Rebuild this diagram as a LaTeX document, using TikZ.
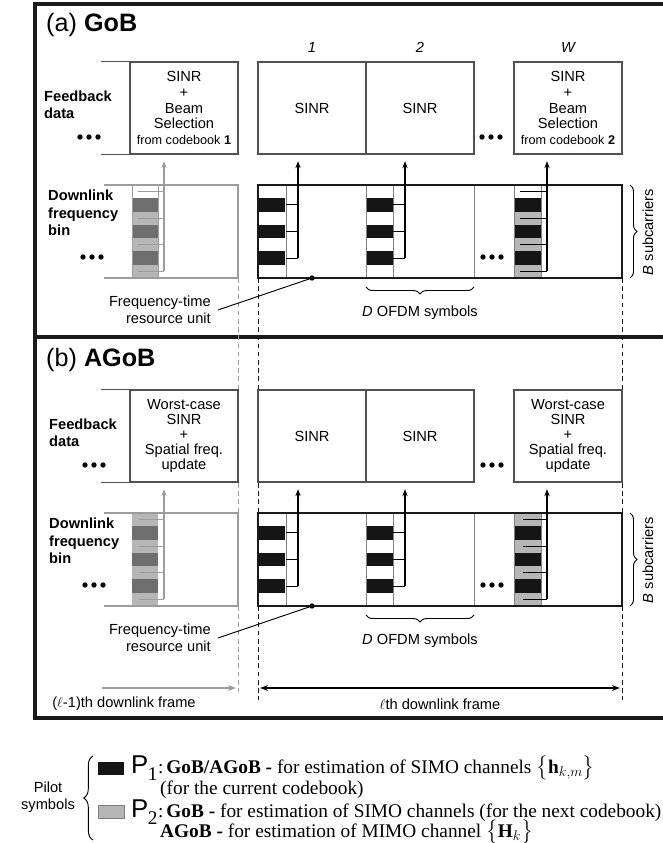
\documentclass[tikz,border=0pt]{standalone}
\usepackage{fontspec}
\usepackage{amsmath}
\setmainfont{Liberation Sans}
\newfontfamily\legfont{Liberation Serif}
\usetikzlibrary{positioning,arrows.meta,decorations.pathreplacing,calc}
\definecolor{cFrm}{HTML}{1A1A1A}
\definecolor{cBox}{HTML}{505050}
\definecolor{cOld}{HTML}{9C9C9C}
\definecolor{cDrk}{HTML}{6E6E6E}
\definecolor{cLgt}{HTML}{B6B6B6}
\definecolor{cPil}{HTML}{151515}
\definecolor{cGrid}{HTML}{808080}
\tikzset{
  fb/.style={draw=cBox,line width=0.9pt,fill=white,minimum width=3.24cm,minimum height=2.76cm,inner sep=0pt,align=center,font=\fontsize{12.5}{13.6}\selectfont},
  lbl/.style={font=\fontsize{12.5}{14.5}\selectfont,inner sep=0pt},
  ttl/.style={font=\fontsize{21.5}{24}\selectfont,inner sep=0pt,anchor=base west},
  idx/.style={font=\fontsize{12.5}{14}\selectfont\itshape,inner sep=0pt},
  up/.style={-{Stealth[length=6pt,width=4.5pt]},line width=0.9pt,shorten >=0.2cm},
  oldf/.style={draw=cOld,line width=1.6pt},
  curf/.style={draw=cFrm,line width=2.4pt},
  grid/.style={draw=cGrid,line width=0.6pt},
  vdash/.style={line width=0.8pt,dash pattern=on 4pt off 3pt},
  brc/.style={decorate,decoration={brace,amplitude=6pt},line width=0.8pt},
  swatch/.style={minimum width=0.78cm,minimum height=0.39cm,inner sep=0pt,anchor=west},
  leg/.style={font=\legfont\fontsize{16.5}{19}\selectfont,inner sep=0pt,anchor=west},
}
\newcommand{\tridot}[1]{\foreach \k in {-9,0,9} \fill ($(#1)+(\k,0)$) circle[radius=2.3pt];}
\newcommand{\pilotP}[1]{{\rmfamily\fontsize{22}{22}\selectfont P}\kern-0.5pt\raisebox{-6pt}{#1}\kern0.5pt:\kern2.5pt}

\begin{document}
\begin{tikzpicture}[x=0.03cm,y=-0.03cm]
  \useasboundingbox (0,0) rectangle (662,843);
  \def\ch{13.2857}

  % outer frame
  \draw[line width=2.6pt,cFrm] (664,4) -- (35,4) -- (35,718) -- (664,718);
  \draw[line width=2.6pt,cFrm] (35,337) -- (664,337);
  \draw[vdash,cOld] (238,278) -- (238,692);
  \draw[vdash,cFrm] (258,278) -- (258,700);
  \draw[vdash,cFrm] (622,278) -- (622,700);

  % (a) GoB
  \node[ttl] (tA) at (46,32) {(a) \textbf{GoB}};
  \node[lbl,font=\fontsize{12.5}{14.5}\selectfont\bfseries,align=left,anchor=west] (fdA) at (44,105) {Feedback\\data};
  \node[fb] (fbA0) at (184,108) {SINR\\+\\Beam\\Selection\\{\fontsize{10.8}{13.6}\selectfont from codebook \textbf{1}}};
  \draw[cBox,line width=0.9pt] (fbA0.north west) -- ++(-28,0) (fbA0.south west) -- ++(-28,0);
  \node[fb] (fbA1) at (312,108) {SINR};
  \node[fb] (fbA2) at (420,108) {SINR};
  \node[fb] (fbAW) at (568,108) {SINR\\+\\Beam\\Selection\\{\fontsize{10.8}{13.6}\selectfont from codebook \textbf{2}}};
  \node[idx,above=0.26cm of fbA1] (iA1) {1};
  \node[idx,above=0.26cm of fbA2] (iA2) {2};
  \node[idx,above=0.26cm of fbAW] (iAW) {W};
  \coordinate (dA0) at (89,137); \tridot{dA0}
  \coordinate (dA1) at (491,137); \tridot{dA1}

  \node[lbl,font=\fontsize{12.5}{15}\selectfont\bfseries,align=left,anchor=west] (dlA) at (48,213) {Downlink\\frequency\\bin};
  \coordinate (dA2) at (92,257); \tridot{dA2}
  \coordinate (dA3) at (492,257); \tridot{dA3}
  \foreach \c [count=\i from 0] in {white,cDrk,cLgt,cDrk,cLgt,cDrk,cLgt}
    \fill[\c] (132,{185+\i*\ch}) rectangle ++(26,\ch);
  \draw[draw=cOld,line width=0.6pt] (132,185) -- (132,278) (158,185) -- (158,278);
  \draw[oldf] (104,185) -- (238,185) -- (238,278) -- (104,278);
  \foreach \i in {0,2,4,6}
    \draw[cOld,line width=0.9pt] (138,{185+(\i+0.5)*\ch}) -- (164,{185+(\i+0.5)*\ch});
  \coordinate (sA0) at (164,{185+6.5*\ch});
  \draw[up,cOld] (sA0) -- (sA0 |- fbA0.south);

  \foreach \x in {258,366} {
    \foreach \c [count=\i from 0] in {white,cPil,white,cPil,white,cPil,white}
      \fill[\c] (\x,{185+\i*\ch}) rectangle ++(27,\ch);
  }
  \foreach \c [count=\i from 0] in {white,cPil,cLgt,cPil,cLgt,cPil,cLgt}
    \fill[\c] (514,{185+\i*\ch}) rectangle ++(27,\ch);
  \foreach \x in {286,366,393,474,514,541} \draw[grid] (\x,185) -- (\x,278);
  \draw[curf] (258,185) rectangle (622,278);
  \foreach \i in {1,3,5}
    \draw[line width=0.9pt] (286,{185+(\i+0.5)*\ch}) -- (298,{185+(\i+0.5)*\ch})
                            (393,{185+(\i+0.5)*\ch}) -- (405,{185+(\i+0.5)*\ch});
  \foreach \i in {0,2,4,6}
    \draw[line width=0.9pt] (520,{185+(\i+0.5)*\ch}) -- (547,{185+(\i+0.5)*\ch});
  \coordinate (sA1) at (298,{185+5.5*\ch});
  \coordinate (sA2) at (405,{185+5.5*\ch});
  \coordinate (sAW) at (547,{185+6.5*\ch});
  \draw[up] (sA1) -- (sA1 |- fbA1.south);
  \draw[up] (sA2) -- (sA2 |- fbA2.south);
  \draw[up] (sAW) -- (sAW |- fbAW.south);

  \draw[brc] (630,185) -- (630,278);
  \node[lbl,rotate=90] (bsA) at (648,232) {\textit{B} subcarriers};
  \draw[brc] (474,287) -- (366,287);
  \node[lbl] (doA) at (420,313) {\textit{D} OFDM symbols};
  \node[lbl,align=right,anchor=east] (ftA) at (211,310) {Frequency-time\\resource unit};
  \coordinate (ruA) at (312,278);
  \draw[line width=0.8pt] (ftA.east) ++(7,0) -- (ruA);
  \fill (ruA) circle[radius=2.3pt];

  % (b) AGoB
  \begin{scope}[shift={(0,328)}]
  \node[ttl] (tB) at (46,38) {(b) \textbf{AGoB}};
  \node[lbl,font=\fontsize{12.5}{14.5}\selectfont\bfseries,align=left,anchor=west] (fdB) at (49,105) {Feedback\\data};
  \node[fb,font=\fontsize{12.5}{13}\selectfont] (fbB0) at (184,108) {Worst-case\\SINR\\+\\Spatial freq.\\update};
  \draw[cBox,line width=0.9pt] (fbB0.north west) -- ++(-28,0) (fbB0.south west) -- ++(-28,0);
  \node[fb] (fbB1) at (312,108) {SINR};
  \node[fb] (fbB2) at (420,108) {SINR};
  \node[fb,font=\fontsize{12.5}{13}\selectfont] (fbBW) at (568,108) {Worst-case\\SINR\\+\\Spatial freq.\\update};
  \coordinate (dB0) at (94,137); \tridot{dB0}
  \coordinate (dB1) at (492,137); \tridot{dB1}

  \node[lbl,font=\fontsize{12.5}{15}\selectfont\bfseries,align=left,anchor=west] (dlB) at (49,213) {Downlink\\frequency\\bin};
  \coordinate (dB2) at (94,257); \tridot{dB2}
  \coordinate (dB3) at (492,257); \tridot{dB3}
  \foreach \c [count=\i from 0] in {cLgt,cDrk,cLgt,cDrk,cLgt,cDrk,cLgt}
    \fill[\c] (132,{185+\i*\ch}) rectangle ++(26,\ch);
  \draw[oldf] (104,185) -- (238,185) -- (238,278) -- (104,278);
  \foreach \i in {0,2,4,6}
    \draw[cOld,line width=0.9pt] (139,{185+(\i+0.5)*\ch}) -- (164,{185+(\i+0.5)*\ch});
  \coordinate (sB0) at (164,{185+6.5*\ch});
  \draw[up,cOld] (sB0) -- (sB0 |- fbB0.south);

  \foreach \x in {258,366} {
    \foreach \c [count=\i from 0] in {white,cPil,white,cPil,white,cPil,white}
      \fill[\c] (\x,{185+\i*\ch}) rectangle ++(27,\ch);
  }
  \foreach \c [count=\i from 0] in {cLgt,cPil,cLgt,cPil,cLgt,cPil,cLgt}
    \fill[\c] (514,{185+\i*\ch}) rectangle ++(27,\ch);
  \foreach \x in {286,366,393,474,514,541} \draw[grid] (\x,185) -- (\x,278);
  \draw[curf] (258,185) rectangle (622,278);
  \foreach \i in {1,3,5}
    \draw[line width=0.9pt] (286,{185+(\i+0.5)*\ch}) -- (298,{185+(\i+0.5)*\ch})
                            (393,{185+(\i+0.5)*\ch}) -- (405,{185+(\i+0.5)*\ch});
  \foreach \i in {0,2,4,6}
    \draw[line width=0.9pt] (523,{185+(\i+0.5)*\ch}) -- (547,{185+(\i+0.5)*\ch});
  \coordinate (sB1) at (298,{185+5.5*\ch});
  \coordinate (sB2) at (405,{185+5.5*\ch});
  \coordinate (sBW) at (547,{185+6.5*\ch});
  \draw[up] (sB1) -- (sB1 |- fbB1.south);
  \draw[up] (sB2) -- (sB2 |- fbB2.south);
  \draw[up] (sBW) -- (sBW |- fbBW.south);

  \draw[brc] (630,185) -- (630,278);
  \node[lbl,rotate=90] (bsB) at (648,232) {\textit{B} subcarriers};
  \draw[brc] (474,287) -- (366,287);
  \node[lbl] (doB) at (420,313) {\textit{D} OFDM symbols};
  \node[lbl,align=right,anchor=east] (ftB) at (211,310) {Frequency-time\\resource unit};
  \coordinate (ruB) at (312,278);
  \draw[line width=0.8pt] (ftB.east) ++(7,0) -- (ruB);
  \fill (ruB) circle[radius=2.3pt];
  \end{scope}

  % downlink frames
  \coordinate (pfL) at (102,688);
  \coordinate (pfR) at (236,688);
  \draw[-{Stealth[length=7pt,width=5pt]},cOld,line width=1pt] (pfL) -- (pfR);
  \node[lbl] (pfT) at (124,704) {($\ell$-1)th downlink frame};
  \coordinate (cfL) at (260,688);
  \coordinate (cfR) at (620,688);
  \draw[{Stealth[length=7pt,width=5pt]}-{Stealth[length=7pt,width=5pt]},line width=1pt] (cfL) -- (cfR);
  \node[lbl] (cfT) at (440,704) {$\ell$th downlink frame};

  % pilot legend
  \node[lbl,align=center] (ps) at (48,797) {Pilot\\symbols};
  \draw[brc,decoration={brace,amplitude=8pt}] (93,840) -- (93,756);
  \node[swatch,fill=cPil] (swP1) at (98,768) {};
  \node[leg] (lgP1) at (131,768) {\pilotP{1}\textbf{GoB/AGoB -} for estimation of SIMO channels $\bigl\{\text{\bfseries h}_{k,m}\bigr\}$};
  \node[leg] (lgC) at (160,790) {(for the current codebook)};
  \node[swatch,fill=cLgt,draw=cGrid,line width=0.6pt] (swP2) at (98,812) {};
  \node[leg] (lgP2) at (131,812) {\pilotP{2}\textbf{GoB -} for estimation of SIMO channels (for the next codebook)};
  \node[leg] (lgM) at (160,832) {\textbf{AGoB -} for estimation of MIMO channel $\bigl\{\text{\bfseries H}_{k}\bigr\}$};
\end{tikzpicture}
\end{document}
